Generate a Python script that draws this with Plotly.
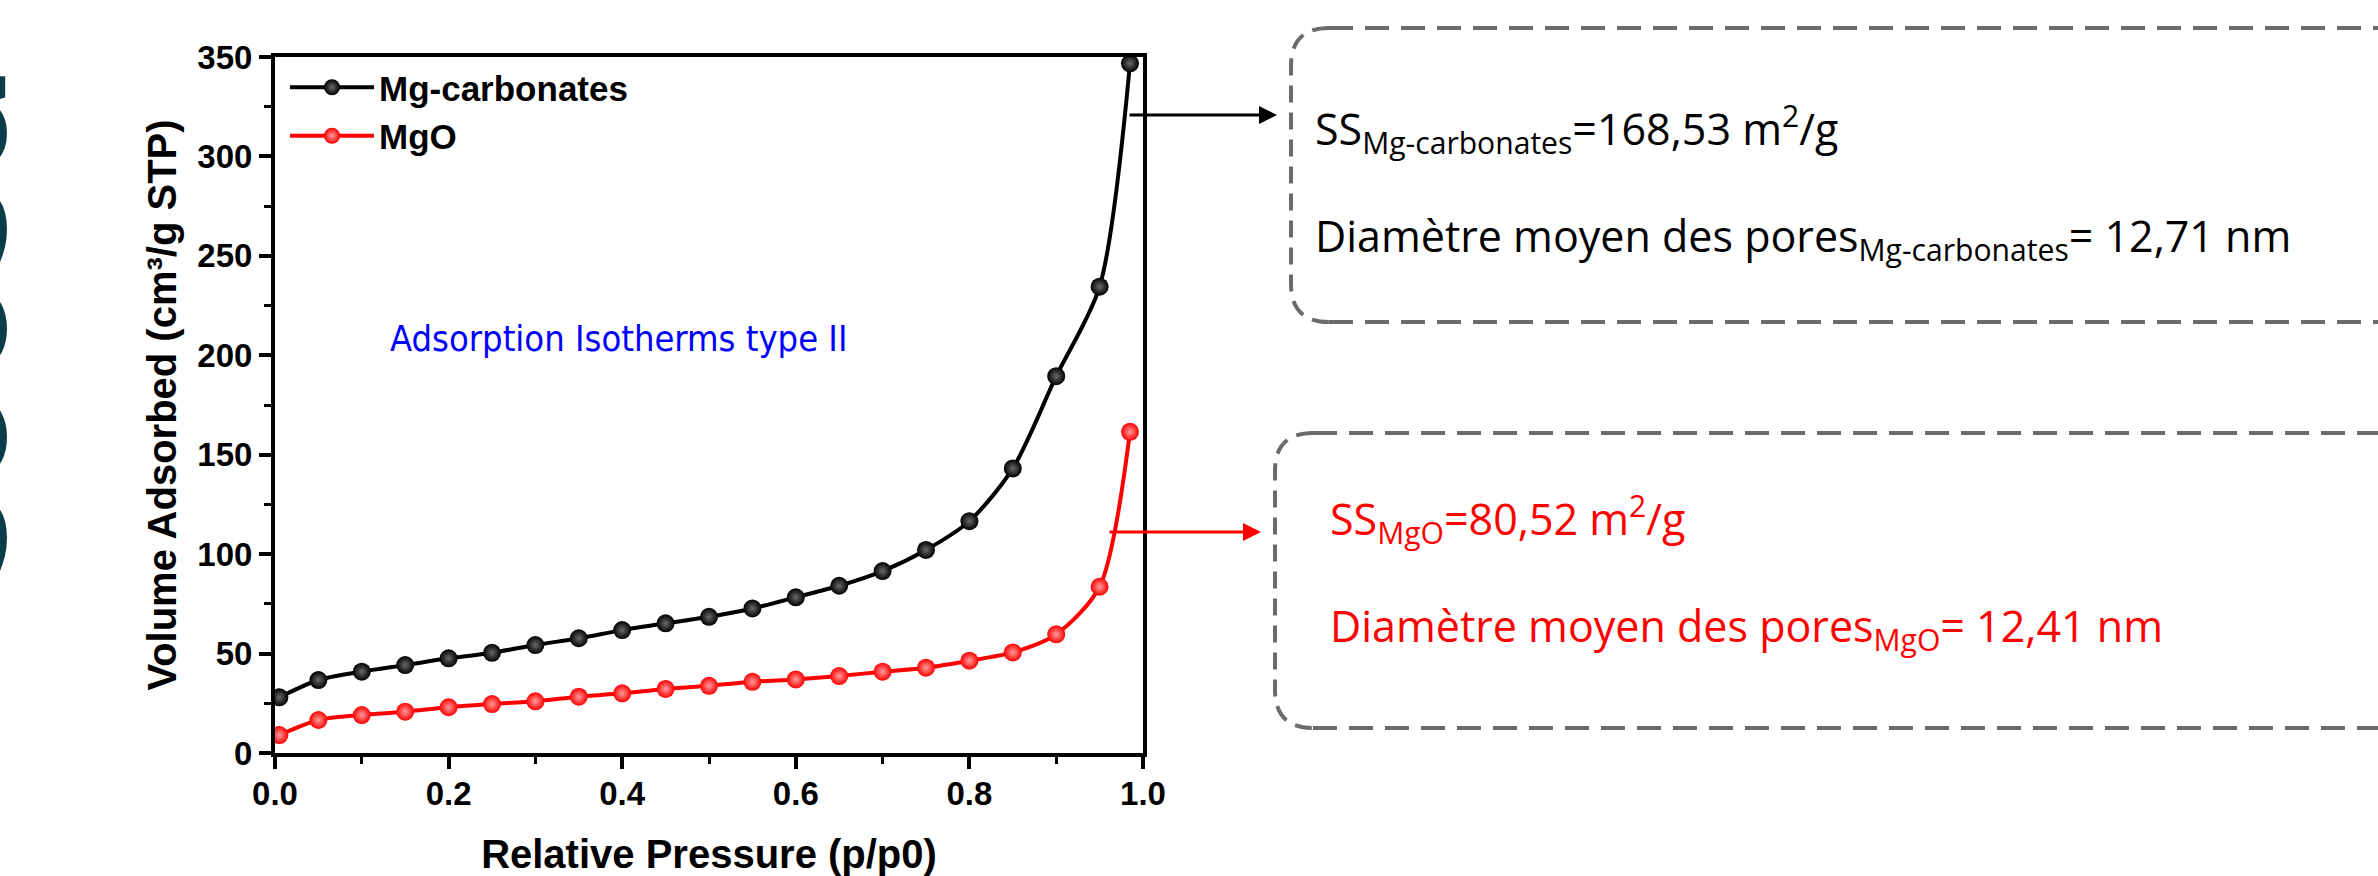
import plotly.graph_objects as go

# ---------------- data ----------------
p_rel = [0.005, 0.05, 0.10, 0.15, 0.20, 0.25, 0.30, 0.35, 0.40, 0.45, 0.50,
         0.55, 0.60, 0.65, 0.70, 0.75, 0.80, 0.85, 0.90, 0.95, 0.985]
v_mgcarb = [28.0, 36.7, 40.9, 44.2, 47.6, 50.4, 54.3, 57.7, 61.8, 65.2, 68.5,
            72.7, 78.3, 84.1, 91.5, 102.1, 116.6, 143.1, 189.5, 234.5, 346.8]
v_mgo = [9.0, 16.6, 19.1, 20.8, 23.0, 24.6, 26.0, 28.3, 30.0, 32.2, 33.8,
         35.8, 37.0, 38.7, 40.9, 42.9, 46.4, 50.6, 59.7, 83.6, 161.5]
series_names = ["Mg-carbonates", "MgO"]
x_ticks = [0.0, 0.2, 0.4, 0.6, 0.8, 1.0]
y_ticks = [0, 50, 100, 150, 200, 250, 300, 350]

# ---------------- layout geometry (pixels) ----------------
W, H = 2378, 876
PL, PR, PT, PB = 275, 1143, 57, 753


def px(x):
    return (x - PL) / (PR - PL)


def py(y):
    return (PB - y) / (PB - PT)


AX_FONT = "Arial, 'Liberation Sans', sans-serif"
BOX_FONT = "'Open Sans', 'Noto Sans', sans-serif"

fig = go.Figure()

fig.add_trace(go.Scatter(
    x=p_rel, y=v_mgcarb, name=series_names[0], mode="lines+markers",
    line=dict(color="black", width=4, shape="spline", smoothing=0.8),
    marker=dict(size=18, color="black", line=dict(width=0),
                gradient=dict(type="radial", color="#6a6a6a")),
))
fig.add_trace(go.Scatter(
    x=p_rel, y=v_mgo, name=series_names[1], mode="lines+markers",
    line=dict(color="#ff0000", width=4, shape="spline", smoothing=0.8),
    marker=dict(size=18, color="#ff0000", line=dict(width=0),
                gradient=dict(type="radial", color="#ff9c9c")),
))

shapes = []
annotations = []

# dashed rounded boxes (left side with rounded corners, top and bottom edges)
BOX_COLOR = "#6b6b6b"
for (lx, ty, by) in [(1291, 28, 322), (1275, 433, 728)]:
    r = 38
    path = (f"M {px(lx + r)},{py(ty)} Q {px(lx)},{py(ty)} {px(lx)},{py(ty + r)} "
            f"L {px(lx)},{py(by - r)} Q {px(lx)},{py(by)} {px(lx + r)},{py(by)}")
    shapes.append(dict(type="path", xref="paper", yref="paper", path=path,
                       line=dict(color=BOX_COLOR, width=4, dash="17px,10px")))
    for yy in (ty, by):
        shapes.append(dict(type="line", xref="paper", yref="paper",
                           x0=px(lx + r), x1=px(2420), y0=py(yy), y1=py(yy),
                           line=dict(color=BOX_COLOR, width=4, dash="24px,12px")))

# arrows
annotations.append(dict(xref="paper", yref="paper", x=px(1277), y=py(115),
                        ax=-(1277 - 1128), ay=0, text="", showarrow=True,
                        arrowhead=2, arrowsize=1.2, arrowwidth=3, arrowcolor="black"))
annotations.append(dict(xref="paper", yref="paper", x=px(1261), y=py(532),
                        ax=-(1261 - 1108), ay=0, text="", showarrow=True,
                        arrowhead=2, arrowsize=1.2, arrowwidth=3, arrowcolor="#ff0000"))

# box texts
box_texts = [
    ("SS<sub>Mg-carbonates</sub>=168,53 m<sup>2</sup>/g", 1313, 129, "black"),
    ("Diamètre moyen des pores<sub>Mg-carbonates</sub>= 12,71 nm", 1313, 238, "black"),
    ("SS<sub>MgO</sub>=80,52 m<sup>2</sup>/g", 1328, 519, "#ff0000"),
    ("Diamètre moyen des pores<sub>MgO</sub>= 12,41 nm", 1328, 628, "#ff0000"),
]
for t, x0, yc, col in box_texts:
    annotations.append(dict(xref="paper", yref="paper", x=px(x0), y=py(yc),
                            xanchor="left", yanchor="middle", text=t, showarrow=False,
                            font=dict(family=BOX_FONT, size=43, color=col)))

# blue label inside plot
annotations.append(dict(xref="paper", yref="paper", x=px(618), y=py(338),
                        xanchor="center", yanchor="middle",
                        text="Adsorption Isotherms type II", showarrow=False,
                        font=dict(family="'DejaVu Sans Condensed', 'Liberation Sans Narrow', sans-serif",
                                  size=36, color="#0000ff")))

# clipped decorative text at the far left edge
annotations.append(dict(xref="paper", yref="paper", x=px(-23), y=py(322),
                        xanchor="center", yanchor="middle", textangle=90,
                        text="<b>nsees</b>", showarrow=False,
                        font=dict(family="'Noto Sans', sans-serif", size=182, color="#0b3c49")))

fig.update_layout(
    width=W, height=H,
    margin=dict(l=PL, r=W - PR, t=PT, b=H - PB, autoexpand=False),
    paper_bgcolor="white", plot_bgcolor="white",
    font=dict(family=AX_FONT, color="black"),
    showlegend=True,
    legend=dict(x=px(285), y=py(58), xanchor="left", yanchor="top",
                bgcolor="rgba(0,0,0,0)", itemwidth=84,
                font=dict(family=AX_FONT, size=35, color="black", weight="bold"),
                tracegroupgap=0),
    shapes=shapes, annotations=annotations,
)

fig.update_xaxes(
    range=[0, 1.0], tickvals=x_ticks, ticktext=[f"{v:.1f}" for v in x_ticks],
    showline=True, linewidth=4, linecolor="black", mirror=True,
    ticks="outside", ticklen=12, tickwidth=4, tickcolor="black",
    minor=dict(ticks="outside", ticklen=7, tickwidth=3, tickcolor="black", dtick=0.1, tick0=0),
    showgrid=False, zeroline=False, ticklabelstandoff=-4,
    tickfont=dict(family=AX_FONT, size=33, color="black", weight="bold"),
    title=dict(text="Relative Pressure (p/p0)", standoff=32,
               font=dict(family=AX_FONT, size=40, color="black", weight="bold")),
    automargin=False,
)
fig.update_yaxes(
    range=[0, 350], tickvals=y_ticks, ticktext=[str(v) for v in y_ticks],
    showline=True, linewidth=4, linecolor="black", mirror=True,
    ticks="outside", ticklen=12, tickwidth=4, tickcolor="black",
    minor=dict(ticks="outside", ticklen=7, tickwidth=3, tickcolor="black", dtick=25, tick0=0),
    showgrid=False, zeroline=False,
    tickfont=dict(family=AX_FONT, size=33, color="black", weight="bold"),
    title=dict(text="Volume Adsorbed (cm³/g STP)", standoff=9,
               font=dict(family=AX_FONT, size=40, color="black", weight="bold")),
    automargin=False,
)

fig.write_html("out.html", config={"displayModeBar": False},
               post_script="document.body.style.margin='0';document.body.style.overflow='hidden';")
